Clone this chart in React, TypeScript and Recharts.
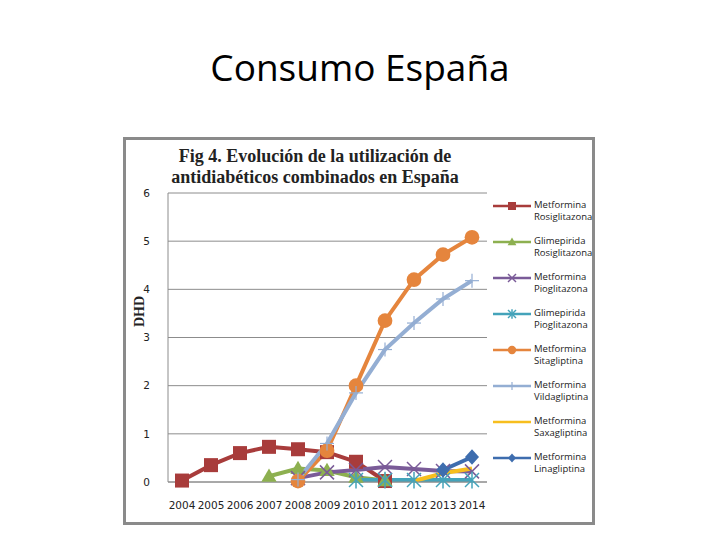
import React from 'react';
import { LineChart, Line, XAxis, YAxis, CartesianGrid } from 'recharts';

const years = ['2004', '2005', '2006', '2007', '2008', '2009', '2010', '2011', '2012', '2013', '2014'];

const metRosi = [0.03, 0.35, 0.6, 0.73, 0.68, 0.62, 0.42, 0.02, null, null, null];
const gliRosi = [null, null, null, 0.12, 0.28, 0.24, 0.1, 0.03, null, null, null];
const metPio = [null, null, null, null, 0.08, 0.2, 0.25, 0.31, 0.27, 0.23, 0.22];
const gliPio = [null, null, null, null, null, null, 0.04, 0.04, 0.04, 0.04, 0.04];
const metSita = [null, null, null, null, 0.02, 0.65, 2.0, 3.35, 4.2, 4.72, 5.08];
const metVilda = [null, null, null, null, 0.05, 0.8, 1.85, 2.75, 3.3, 3.8, 4.18];
const metSaxa = [null, null, null, null, null, null, null, null, 0.02, 0.18, 0.28];
const metLina = [null, null, null, null, null, null, null, null, null, 0.25, 0.52];

const yTicks = [0, 1, 2, 3, 4, 5, 6];

type Shape = 'square' | 'triangle' | 'x' | 'star' | 'circle' | 'plus' | 'none' | 'diamond';

const series: { key: string; l1: string; l2: string; color: string; shape: Shape; values: (number | null)[] }[] = [
  { key: 'metRosi', l1: 'Metformina', l2: 'Rosiglitazona', color: '#A83C3B', shape: 'square', values: metRosi },
  { key: 'gliRosi', l1: 'Glimepirida', l2: 'Rosiglitazona', color: '#8DB050', shape: 'triangle', values: gliRosi },
  { key: 'metPio', l1: 'Metformina', l2: 'Pioglitazona', color: '#7A5B98', shape: 'x', values: metPio },
  { key: 'gliPio', l1: 'Glimepirida', l2: 'Pioglitazona', color: '#44A3BA', shape: 'star', values: gliPio },
  { key: 'metSita', l1: 'Metformina', l2: 'Sitagliptina', color: '#E5853D', shape: 'circle', values: metSita },
  { key: 'metVilda', l1: 'Metformina', l2: 'Vildagliptina', color: '#94AED3', shape: 'plus', values: metVilda },
  { key: 'metSaxa', l1: 'Metformina', l2: 'Saxagliptina', color: '#F7BE1E', shape: 'none', values: metSaxa },
  { key: 'metLina', l1: 'Metformina', l2: 'Linagliptina', color: '#3E6DAE', shape: 'diamond', values: metLina },
];

const data = years.map((y, i) => {
  const row: Record<string, string | number | null> = { year: y };
  series.forEach((s) => { row[s.key] = s.values[i]; });
  return row;
});

function marker(shape: Shape, color: string, cx: number, cy: number, r: number, k?: string | number) {
  switch (shape) {
    case 'square':
      return <rect key={k} x={cx - r} y={cy - r} width={2 * r} height={2 * r} fill={color} />;
    case 'triangle':
      return <polygon key={k} points={`${cx},${cy - r * 1.1} ${cx + r * 1.1},${cy + r * 0.8} ${cx - r * 1.1},${cy + r * 0.8}`} fill={color} />;
    case 'circle':
      return <circle key={k} cx={cx} cy={cy} r={r * 1.05} fill={color} />;
    case 'diamond':
      return <polygon key={k} points={`${cx},${cy - r * 1.1} ${cx + r},${cy} ${cx},${cy + r * 1.1} ${cx - r},${cy}`} fill={color} />;
    case 'x':
      return (
        <g key={k} stroke={color} strokeWidth={1.5}>
          <line x1={cx - r} y1={cy - r} x2={cx + r} y2={cy + r} />
          <line x1={cx - r} y1={cy + r} x2={cx + r} y2={cy - r} />
        </g>
      );
    case 'star':
      return (
        <g key={k} stroke={color} strokeWidth={1.5}>
          <line x1={cx - r} y1={cy - r} x2={cx + r} y2={cy + r} />
          <line x1={cx - r} y1={cy + r} x2={cx + r} y2={cy - r} />
          <line x1={cx} y1={cy - r * 1.2} x2={cx} y2={cy + r * 1.2} />
        </g>
      );
    case 'plus':
      return (
        <g key={k} stroke={color} strokeWidth={1.2}>
          <line x1={cx} y1={cy - r} x2={cx} y2={cy + r} />
          <line x1={cx - r} y1={cy} x2={cx + r} y2={cy} />
        </g>
      );
    default:
      return <g key={k} />;
  }
}

export default function App() {
  return (
    <div style={{ position: 'absolute', left: 0, top: 0, width: 720, height: 540, background: '#fff' }}>
      <div style={{ position: 'absolute', left: 0, top: 41, width: 720, textAlign: 'center', fontFamily: 'Open Sans, Noto Sans, sans-serif', fontSize: 37, color: '#000' }}>
        Consumo España
      </div>
      <div style={{ position: 'absolute', left: 123, top: 137, width: 466, height: 382, border: '3px solid #8a8a8a' }} />
      <div style={{ position: 'absolute', left: 130, top: 146, width: 370, textAlign: 'center', fontFamily: 'Liberation Serif, serif', fontWeight: 'bold', fontSize: 18, lineHeight: '21px', color: '#222' }}>
        Fig 4. Evolución de la utilización de<br />antidiabéticos combinados en España
      </div>
      <div style={{ position: 'absolute', left: 126, top: 305, width: 28, textAlign: 'center', transform: 'rotate(-90deg)', fontFamily: 'Liberation Serif, serif', fontWeight: 'bold', fontSize: 14, color: '#222' }}>
        DHD
      </div>
      <LineChart width={720} height={540} data={data} margin={{ top: 193, right: 233, bottom: 28, left: 148 }} style={{ position: 'absolute', left: 0, top: 0 }}>
        <CartesianGrid vertical={false} stroke="#8c8c8c" strokeWidth={1} />
        <XAxis dataKey="year" padding={{ left: 14, right: 15 }} tickLine={false} axisLine={{ stroke: '#8c8c8c' }} height={30} tick={{ fontSize: 10.5, fill: '#222', fontFamily: 'DejaVu Sans, sans-serif' }} tickMargin={14} />
        <YAxis width={20} domain={[0, 6]} ticks={yTicks} tickLine={false} axisLine={{ stroke: '#8c8c8c' }} tick={{ fontSize: 10.5, fill: '#222', fontFamily: 'DejaVu Sans, sans-serif' }} tickMargin={12} />
        {series.map((s) => (
          <Line
            key={s.key}
            dataKey={s.key}
            stroke={s.color}
            strokeWidth={4}
            isAnimationActive={false}
            connectNulls={false}
            activeDot={false}
            dot={(p: any) => (p.cx == null || p.cy == null || p.value == null ? <g key={p.key} /> : marker(s.shape, s.color, p.cx, p.cy, 7, p.key))}
          />
        ))}
      </LineChart>
      {series.map((s, i) => {
        const y = 206 + i * 36;
        return (
          <div key={s.key} style={{ position: 'absolute', left: 492, top: y - 8, width: 100, height: 30 }}>
            <svg width={40} height={16} style={{ position: 'absolute', left: 0, top: 0 }}>
              <line x1={1} y1={8} x2={39} y2={8} stroke={s.color} strokeWidth={2.5} />
              {marker(s.shape, s.color, 20, 8, 4)}
            </svg>
            <div style={{ position: 'absolute', left: 42, top: 1, fontFamily: 'Open Sans, sans-serif', fontSize: 9.5, lineHeight: '12px', color: '#222', whiteSpace: 'nowrap' }}>
              {s.l1}<br />{s.l2}
            </div>
          </div>
        );
      })}
    </div>
  );
}
